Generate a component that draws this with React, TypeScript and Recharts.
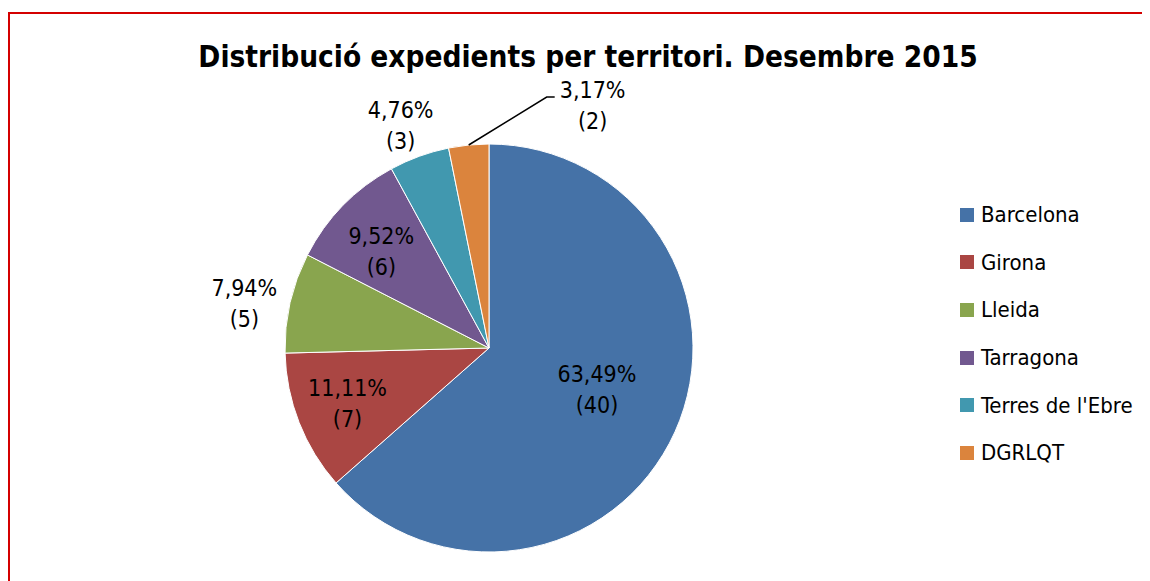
import React from 'react';
import { PieChart, Pie, Cell, Legend } from 'recharts';

const territories = ['Barcelona', 'Girona', 'Lleida', 'Tarragona', "Terres de l'Ebre", 'DGRLQT'];
const expedients = [40, 7, 5, 6, 3, 2];
const colors = ['#4572A7', '#AA4643', '#89A54E', '#71588F', '#4198AF', '#DB843D'];

// label placement per slice: radius factor and small nudges
const labelRadius = [0.57, 0.745, 1.2, 0.71, 1.18, 1.0];
const labelNudge = [[2, -6], [0, 0], [-6, 10], [-4, 5], [-6, 4], [0, 0]];

const FONT = '"DejaVu Sans Condensed", "DejaVu Sans", sans-serif';

const data = territories.map((name, i) => ({ name, value: expedients[i] }));

const RAD = Math.PI / 180;

function renderLabel(props: any) {
  const { cx, cy, midAngle, outerRadius, percent, value, index } = props;
  const pct = (percent * 100).toFixed(2).replace('.', ',') + '%';
  const cos = Math.cos(-midAngle * RAD);
  const sin = Math.sin(-midAngle * RAD);

  if (index === 5) {
    // leader line for the smallest slice
    const sx = cx + outerRadius * cos;
    const sy = cy + outerRadius * sin;
    const ex = sx + 78;
    const ey = sy - 48;
    const tx = ex + 46;
    return (
      <g>
        <polyline
          points={`${sx},${sy} ${ex},${ey} ${ex + 8},${ey}`}
          fill="none"
          stroke="#000"
          strokeWidth={1.5}
        />
        <text x={tx} y={ey - 7} textAnchor="middle" dominantBaseline="central" fontSize={23} fontFamily={FONT} fill="#000">
          <tspan x={tx} dy={0}>{pct}</tspan>
          <tspan x={tx} dy={31}>{`(${value})`}</tspan>
        </text>
      </g>
    );
  }

  const r = outerRadius * labelRadius[index];
  const x = cx + r * cos + labelNudge[index][0];
  const y = cy + r * sin + labelNudge[index][1];
  return (
    <text x={x} y={y - 15.5} textAnchor="middle" dominantBaseline="central" fontSize={23} fontFamily={FONT} fill="#000">
      <tspan x={x} dy={0}>{pct}</tspan>
      <tspan x={x} dy={31}>{`(${value})`}</tspan>
    </text>
  );
}

function LegendContent() {
  return (
    <div style={{ fontFamily: FONT, fontSize: 22, color: '#000' }}>
      {territories.map((name, i) => (
        <div key={`leg-${i}`} style={{ height: 47.6, display: 'flex', alignItems: 'center' }}>
          <span style={{ width: 14, height: 14, background: colors[i], display: 'inline-block', marginRight: 7 }} />
          <span>{name}</span>
        </div>
      ))}
    </div>
  );
}

export default function App() {
  return (
    <div style={{ position: 'relative', width: 1142, height: 573, overflow: 'hidden' }}>
      <div
        style={{
          position: 'absolute',
          left: 0,
          top: 4,
          right: -10,
          bottom: -10,
          borderLeft: '2px solid #d40000',
          borderTop: '2px solid #d40000',
        }}
      />
      <div
        style={{
          position: 'absolute',
          left: 80,
          width: 1000,
          top: 32,
          textAlign: 'center',
          fontFamily: FONT,
          fontWeight: 'bold',
          fontSize: 29.5,
          lineHeight: '34px',
          color: '#000',
        }}
      >
        Distribució expedients per territori. Desembre 2015
      </div>
      <div style={{ position: 'absolute', left: 0, top: 0 }}>
        <PieChart width={1142} height={573} margin={{ top: 0, right: 0, bottom: 0, left: 0 }}>
          <Pie
            data={data}
            dataKey="value"
            nameKey="name"
            cx={481}
            cy={340}
            outerRadius={204}
            startAngle={90}
            endAngle={-270}
            stroke="#fff"
            strokeWidth={1}
            label={renderLabel}
            labelLine={false}
            isAnimationActive={false}
          >
            {data.map((entry, index) => (
              <Cell key={`cell-${index}`} fill={colors[index]} />
            ))}
          </Pie>
          <Legend
            layout="vertical"
            align="right"
            verticalAlign="top"
            content={<LegendContent />}
            wrapperStyle={{ left: 952, top: 183, width: 190 }}
          />
        </PieChart>
      </div>
    </div>
  );
}
